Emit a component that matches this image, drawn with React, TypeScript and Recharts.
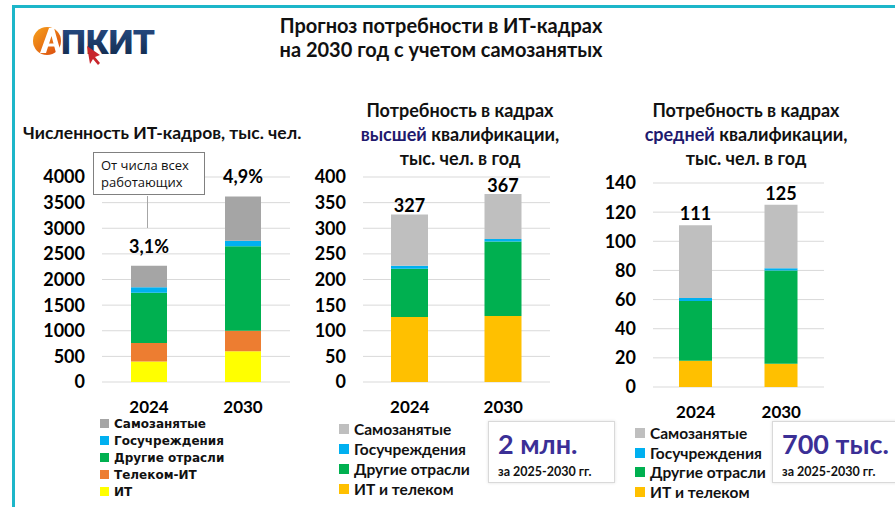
import React from "react";
import { BarChart, Bar, XAxis, YAxis, CartesianGrid, Legend, LabelList } from "recharts";

const years = ["2024", "2030"];

// численность ИТ-кадров, тыс. чел.
const staffIT = [400, 600];
const staffTelecom = [360, 400];
const staffOther = [980, 1650];
const staffGov = [110, 105];
const staffSelf = [420, 865];
const staffShare = ["3,1%", "4,9%"];
const staffTicks = [0, 500, 1000, 1500, 2000, 2500, 3000, 3500, 4000];

// высшая квалификация
const highIT = [127, 129];
const highOther = [94, 145];
const highGov = [6, 5];
const highSelf = [100, 88];
const highTotal = ["327", "367"];
const highTicks = [0, 50, 100, 150, 200, 250, 300, 350, 400];

// средняя квалификация
const midIT = [18, 16];
const midOther = [41, 64];
const midGov = [2, 1.5];
const midSelf = [50, 43.5];
const midTotal = ["111", "125"];
const midTicks = [0, 20, 40, 60, 80, 100, 120, 140];

type Series = { key: string; name: string; color: string; values: number[] };

const staffSeries: Series[] = [
  { key: "it", name: "ИТ", color: "#ffff00", values: staffIT },
  { key: "telecom", name: "Телеком-ИТ", color: "#ed7d31", values: staffTelecom },
  { key: "other", name: "Другие отрасли", color: "#00b050", values: staffOther },
  { key: "gov", name: "Госучреждения", color: "#00b0f0", values: staffGov },
  { key: "self", name: "Самозанятые", color: "#a5a5a5", values: staffSelf },
];

const highSeries: Series[] = [
  { key: "it", name: "ИТ и телеком", color: "#ffc000", values: highIT },
  { key: "other", name: "Другие отрасли", color: "#00b050", values: highOther },
  { key: "gov", name: "Госучреждения", color: "#00b0f0", values: highGov },
  { key: "self", name: "Самозанятые", color: "#bfbfbf", values: highSelf },
];

const midSeries: Series[] = [
  { key: "it", name: "ИТ и телеком", color: "#ffc000", values: midIT },
  { key: "other", name: "Другие отрасли", color: "#00b050", values: midOther },
  { key: "gov", name: "Госучреждения", color: "#00b0f0", values: midGov },
  { key: "self", name: "Самозанятые", color: "#bfbfbf", values: midSelf },
];

const buildRows = (series: Series[], labels: string[]) =>
  years.map((year, i) => {
    const row: Record<string, string | number> = { year, label: labels[i] };
    series.forEach((s) => (row[s.key] = s.values[i]));
    return row;
  });

const FONT = "Lato, 'Open Sans', sans-serif";

type ChartProps = {
  series: Series[];
  labels: string[];
  ticks: number[];
  left: number;
  top: number;
  width: number;
  height: number;
  margin: { top: number; right: number; bottom: number; left: number };
  yWidth: number;
  barSize: number;
  labelSize: number;
  labelOffset: number;
  legend: { left: number; top: number; row: number; font: string; size: number; box: number };
};

function StackChart(p: ChartProps) {
  const data = buildRows(p.series, p.labels);
  const legendItems = [...p.series].reverse();
  return (
    <div style={{ position: "absolute", left: p.left, top: p.top }}>
      <BarChart width={p.width} height={p.height} data={data} margin={p.margin} barSize={p.barSize}>
        <CartesianGrid vertical={false} stroke="#d9d9d9" />
        <XAxis
          dataKey="year"
          axisLine={false}
          tickLine={false}
          height={30}
          tickMargin={13}
          tick={{ fontSize: 17, fontWeight: 700, fill: "#000", fontFamily: FONT }}
        />
        <YAxis
          width={p.yWidth}
          domain={[0, p.ticks[p.ticks.length - 1]]}
          ticks={p.ticks}
          interval={0}
          axisLine={false}
          tickLine={false}
          tickMargin={11}
          tick={{ fontSize: 18, fontWeight: 700, fill: "#000", fontFamily: FONT }}
        />
        <Legend
          layout="vertical"
          align="center"
          verticalAlign="middle"
          wrapperStyle={{ left: p.legend.left, top: p.legend.top, width: 200 }}
          content={() => (
            <div>
              {legendItems.map((s) => (
                <div
                  key={s.key}
                  style={{
                    display: "flex",
                    alignItems: "center",
                    height: p.legend.row,
                    fontFamily: p.legend.font,
                    fontSize: p.legend.size,
                    fontWeight: 700,
                    color: "#111",
                    whiteSpace: "nowrap",
                  }}
                >
                  <span
                    style={{
                      width: p.legend.box,
                      height: p.legend.box,
                      background: s.color,
                      marginRight: 5,
                      display: "inline-block",
                    }}
                  />
                  {s.name}
                </div>
              ))}
            </div>
          )}
        />
        {p.series.map((s, i) => (
          <Bar key={s.key} dataKey={s.key} name={s.name} stackId="a" fill={s.color} isAnimationActive={false}>
            {i === p.series.length - 1 && (
              <LabelList
                dataKey="label"
                position="top"
                offset={p.labelOffset}
                style={{ fontSize: p.labelSize, fontWeight: 700, fill: "#000", fontFamily: FONT }}
              />
            )}
          </Bar>
        ))}
      </BarChart>
    </div>
  );
}

function Logo() {
  return (
    <svg width={140} height={45} style={{ position: "absolute", left: 30, top: 20 }}>
      <defs>
        <linearGradient id="og" x1="0" y1="0" x2="1" y2="1">
          <stop offset="0" stopColor="#f7a21b" />
          <stop offset="1" stopColor="#d9480f" />
        </linearGradient>
        <linearGradient id="ng" x1="0" y1="0" x2="0" y2="1">
          <stop offset="0" stopColor="#2a4f8a" />
          <stop offset="1" stopColor="#0f2747" />
        </linearGradient>
      </defs>
      <circle cx={17} cy={21} r={14} fill="url(#og)" />
      <path d="M10 33 L19 8 L24 8 L31 33 L26 33 L21.5 16 L16 33 Z" fill="#fff" />
      <path d="M18 25 L25 25" stroke="#fff" strokeWidth={3} />
      <text
        x={31}
        y={34}
        fontFamily="Roboto, sans-serif"
        fontWeight={900}
        fontSize={34}
        textLength={94}
        lengthAdjust="spacingAndGlyphs"
        fill="url(#ng)"
      >
        ПКИТ
      </text>
      <path d="M57 26 L60 44 L63 39 L68 45 L70 43 L65 37 L70 35 Z" fill="#c8262c" />
    </svg>
  );
}

const boxStyle: React.CSSProperties = {
  position: "absolute",
  top: 421,
  height: 62,
  border: "1px solid #d9d9d9",
  boxShadow: "0 0 3px rgba(0,0,0,0.12)",
  background: "#fff",
  fontFamily: FONT,
  fontWeight: 700,
  boxSizing: "border-box",
  paddingLeft: 9,
};

const subTitle: React.CSSProperties = {
  position: "absolute",
  top: 98,
  width: 260,
  textAlign: "center",
  fontSize: 18,
  fontWeight: 700,
  lineHeight: "24px",
};

export default function App() {
  return (
    <div
      style={{
        position: "absolute",
        left: 0,
        top: 0,
        width: 895,
        height: 507,
        overflow: "hidden",
        background: "#fff",
        fontFamily: FONT,
        color: "#111",
      }}
    >
      <div
        style={{
          position: "absolute",
          left: 12,
          top: 5,
          width: 900,
          height: 600,
          borderTop: "3px solid #1cb6c9",
          borderLeft: "3px solid #1cb6c9",
        }}
      />
      <Logo />
      <div
        style={{
          position: "absolute",
          left: 236,
          top: 13,
          width: 410,
          textAlign: "center",
          fontSize: 20,
          fontWeight: 700,
          lineHeight: "24px",
        }}
      >
        Прогноз потребности в ИТ-кадрах
        <br />
        на 2030 год с учетом самозанятых
      </div>

      <div style={{ position: "absolute", left: 23, top: 122, fontSize: 17.5, fontWeight: 700, whiteSpace: "nowrap" }}>
        Численность ИТ-кадров, тыс. чел.
      </div>
      <div style={{ ...subTitle, left: 330 }}>
        Потребность в кадрах
        <br />
        <span style={{ color: "#1f1a6e" }}>высшей</span> квалификации,
        <br />
        тыс. чел. в год
      </div>
      <div style={{ ...subTitle, left: 616 }}>
        Потребность в кадрах
        <br />
        <span style={{ color: "#1f1a6e" }}>средней</span> квалификации,
        <br />
        тыс. чел. в год
      </div>

      <StackChart
        series={staffSeries}
        labels={staffShare}
        ticks={staffTicks}
        left={20}
        top={160}
        width={280}
        height={347}
        margin={{ top: 17, right: 10, bottom: 95, left: 0 }}
        yWidth={82}
        barSize={36}
        labelSize={18}
        labelOffset={13}
        legend={{ left: 80, top: 255, row: 17, font: "'DejaVu Sans', sans-serif", size: 12, box: 9 }}
      />
      <StackChart
        series={highSeries}
        labels={highTotal}
        ticks={highTicks}
        left={300}
        top={160}
        width={260}
        height={347}
        margin={{ top: 17, right: 10, bottom: 95, left: 0 }}
        yWidth={63}
        barSize={37}
        labelSize={18}
        labelOffset={2}
        legend={{ left: 39, top: 259, row: 20, font: FONT, size: 15.5, box: 10 }}
      />
      <StackChart
        series={midSeries}
        labels={midTotal}
        ticks={midTicks}
        left={590}
        top={160}
        width={250}
        height={347}
        margin={{ top: 23, right: 16, bottom: 90, left: 0 }}
        yWidth={63}
        barSize={33}
        labelSize={18}
        labelOffset={5}
        legend={{ left: 45, top: 263, row: 19.7, font: FONT, size: 15.5, box: 10 }}
      />

      <div
        style={{
          position: "absolute",
          left: 93,
          top: 152,
          width: 112,
          height: 43,
          boxSizing: "border-box",
          border: "1px solid #808080",
          background: "#fff",
          fontSize: 13,
          lineHeight: "17px",
          padding: "4px 0 0 7px",
          fontFamily: "'Open Sans', sans-serif",
        }}
      >
        От числа всех
        <br />
        работающих
      </div>
      <div style={{ position: "absolute", left: 147, top: 196, width: 1, height: 32, background: "#a6a6a6" }} />

      <div style={{ ...boxStyle, left: 488, width: 127 }}>
        <div style={{ fontSize: 27, color: "#3b2f96", lineHeight: "32px", marginTop: 6 }}>2 млн.</div>
        <div style={{ fontSize: 12.5, lineHeight: "16px", marginTop: 4 }}>за 2025-2030 гг.</div>
      </div>
      <div style={{ ...boxStyle, left: 772, width: 130 }}>
        <div style={{ fontSize: 27, color: "#3b2f96", lineHeight: "32px", marginTop: 6 }}>700 тыс.</div>
        <div style={{ fontSize: 12.5, lineHeight: "16px", marginTop: 4 }}>за 2025-2030 гг.</div>
      </div>
    </div>
  );
}
